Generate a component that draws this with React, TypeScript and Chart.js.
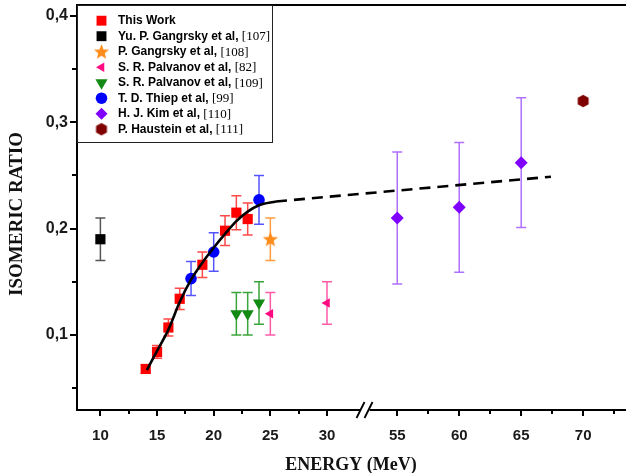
import React, { useEffect, useRef } from 'react';
import { Chart, registerables } from 'chart.js';

Chart.register(...registerables);

// ---- tick values ----
const xMajorTicks = [10, 15, 20, 25, 30, 55, 60, 65, 70];
const xMinorTicks = [12.5, 17.5, 22.5, 27.5, 57.5, 62.5, 67.5, 72.5];
const yMajorTicks = [0.1, 0.2, 0.3, 0.4];
const yMinorTicks = [0.05, 0.15, 0.25, 0.35];

// ---- data (energy in MeV, isomeric ratio, error) ----
const thisWorkE = [14, 15, 16, 17, 19, 21, 22, 23];
const thisWorkR = [0.068, 0.084, 0.107, 0.134, 0.166, 0.198, 0.215, 0.209];
const thisWorkErr = [0.004, 0.006, 0.008, 0.01, 0.012, 0.014, 0.016, 0.015];

const gangrsky107E = [10];
const gangrsky107R = [0.19];
const gangrsky107Err = [0.02];

const gangrsky108E = [25];
const gangrsky108R = [0.19];
const gangrsky108Err = [0.02];

const palvanov82E = [25, 30];
const palvanov82R = [0.12, 0.13];
const palvanov82Err = [0.02, 0.02];

const palvanov109E = [22, 23, 24];
const palvanov109R = [0.12, 0.12, 0.13];
const palvanov109Err = [0.02, 0.02, 0.02];

const thiepE = [18, 20, 24];
const thiepR = [0.153, 0.178, 0.227];
const thiepErr = [0.016, 0.018, 0.023];

const kimE = [55, 60, 65];
const kimR = [0.21, 0.22, 0.262];
const kimErr = [0.062, 0.061, 0.061];

const hausteinE = [70];
const hausteinR = [0.32];
const hausteinErr = [0];

const fitSolidE = [14.1, 15, 16, 17, 18, 19, 20, 21, 22, 23, 24, 25.5];
const fitSolidR = [0.067, 0.085, 0.105, 0.131, 0.152, 0.168, 0.182, 0.195, 0.207, 0.216, 0.222, 0.2255];
const fitDashE = [25.5, 67.4];
const fitDashR = [0.2255, 0.2488];

const legendNames = [
  'This Work',
  'Yu. P. Gangrsky et al,',
  'P. Gangrsky et al,',
  'S. R. Palvanov et al,',
  'S. R. Palvanov et al,',
  'T. D. Thiep et al,',
  'H. J. Kim et al,',
  'P. Haustein et al,',
];
const legendRefs = ['', '[107]', '[108]', '[82]', '[109]', '[99]', '[110]', '[111]'];

// ---- broken axis mapping (energy -> axis coordinate) ----
function axisPos(e: number): number {
  return e <= 40 ? e : 36.2 + (e - 55) * 1.094;
}
const X_MIN = 7.935;
const X_MAX = 56.39;
const Y_MIN = 0.0294;
const Y_MAX = 0.4103;

function makeStar(color: string) {
  const c = document.createElement('canvas');
  c.width = 17; c.height = 17;
  const g = c.getContext('2d')!;
  g.fillStyle = color;
  g.beginPath();
  for (let i = 0; i < 10; i++) {
    const r = i % 2 === 0 ? 8 : 3.4;
    const a = -Math.PI / 2 + (i * Math.PI) / 5;
    const px = 8.5 + r * Math.cos(a);
    const py = 9 + r * Math.sin(a);
    if (i === 0) g.moveTo(px, py); else g.lineTo(px, py);
  }
  g.closePath();
  g.fill();
  return c;
}
function makeHex(color: string) {
  const c = document.createElement('canvas');
  c.width = 14; c.height = 14;
  const g = c.getContext('2d')!;
  g.fillStyle = color;
  g.beginPath();
  for (let i = 0; i < 6; i++) {
    const a = Math.PI / 2 + (i * Math.PI) / 3;
    const px = 7 + 6.3 * Math.cos(a);
    const py = 7 + 6.3 * Math.sin(a);
    if (i === 0) g.moveTo(px, py); else g.lineTo(px, py);
  }
  g.closePath();
  g.fill();
  return c;
}

function drawMarker(ctx: CanvasRenderingContext2D, style: any, x: number, y: number, r: number, rotDeg: number, color: string) {
  ctx.save();
  ctx.fillStyle = color;
  if (typeof style !== 'string') {
    ctx.drawImage(style, x - style.width / 2, y - style.height / 2);
    ctx.restore();
    return;
  }
  ctx.beginPath();
  const rad = (rotDeg * Math.PI) / 180;
  if (style === 'rect') {
    const s = Math.SQRT1_2 * r;
    ctx.rect(x - s, y - s, 2 * s, 2 * s);
  } else if (style === 'circle') {
    ctx.arc(x, y, r, 0, Math.PI * 2);
  } else if (style === 'rectRot') {
    ctx.moveTo(x - r, y); ctx.lineTo(x, y - r); ctx.lineTo(x + r, y); ctx.lineTo(x, y + r);
  } else if (style === 'triangle') {
    let a = rad;
    ctx.moveTo(x + Math.sin(a) * r, y - Math.cos(a) * r);
    a += (2 * Math.PI) / 3;
    ctx.lineTo(x + Math.sin(a) * r, y - Math.cos(a) * r);
    a += (2 * Math.PI) / 3;
    ctx.lineTo(x + Math.sin(a) * r, y - Math.cos(a) * r);
  }
  ctx.closePath();
  ctx.fill();
  ctx.restore();
}

export default function App() {
  const ref = useRef<HTMLCanvasElement>(null);

  useEffect(() => {
    const canvas = ref.current!;
    const star = makeStar('#ff8c1a');
    const hex = makeHex('#7f0000');

    const pts = (es: number[], rs: number[]) => es.map((e, i) => ({ x: axisPos(e), y: rs[i] }));

    const series = [
      { E: thisWorkE, R: thisWorkR, err: thisWorkErr, style: 'rect', r: 7.2, rot: 0, color: '#ff0000', errColor: '#ff4a4a', lr: 7 },
      { E: gangrsky107E, R: gangrsky107R, err: gangrsky107Err, style: 'rect', r: 7.2, rot: 0, color: '#000000', errColor: '#555555', lr: 7 },
      { E: gangrsky108E, R: gangrsky108R, err: gangrsky108Err, style: star, r: 8, rot: 0, color: '#ff8c1a', errColor: '#ff9c40', lr: 8 },
      { E: palvanov82E, R: palvanov82R, err: palvanov82Err, style: 'triangle', r: 5.5, rot: 270, color: '#ff0a80', errColor: '#ff5aa8', lr: 5.5 },
      { E: palvanov109E, R: palvanov109R, err: palvanov109Err, style: 'triangle', r: 7, rot: 180, color: '#138a13', errColor: '#3aa53a', lr: 7 },
      { E: thiepE, R: thiepR, err: thiepErr, style: 'circle', r: 5.8, rot: 0, color: '#0000ff', errColor: '#5555ff', lr: 5.8 },
      { E: kimE, R: kimR, err: kimErr, style: 'rectRot', r: 6.5, rot: 0, color: '#7f00ff', errColor: '#b070ff', lr: 6 },
      { E: hausteinE, R: hausteinR, err: hausteinErr, style: hex, r: 6, rot: 0, color: '#7f0000', errColor: '#7f0000', lr: 6 },
    ];

    const datasets: any[] = [
      {
        label: 'fit', data: pts(fitSolidE, fitSolidR), showLine: true, borderColor: '#000', borderWidth: 2.6,
        pointRadius: 0, cubicInterpolationMode: 'monotone', fill: false, order: 0,
      },
      {
        label: 'fitDash', data: pts(fitDashE, fitDashR), showLine: true, borderColor: '#000', borderWidth: 2.6,
        borderDash: [11, 7], pointRadius: 0, fill: false, order: 0,
      },
      ...series.map((s, i) => ({
        label: legendNames[i] + legendRefs[i],
        data: pts(s.E, s.R),
        errors: s.err,
        errColor: s.errColor,
        showLine: false,
        pointStyle: s.style,
        pointRadius: s.r,
        pointRotation: s.rot,
        backgroundColor: s.color,
        borderColor: s.color,
        borderWidth: 0,
        order: 1,
      })),
    ];

    const deco = {
      id: 'deco',
      beforeDatasetsDraw(chart: any) {
        const ctx = chart.ctx as CanvasRenderingContext2D;
        const xs = chart.scales.x, ys = chart.scales.y;
        chart.data.datasets.forEach((ds: any) => {
          if (!ds.errors) return;
          ctx.save();
          ctx.strokeStyle = ds.errColor;
          ctx.lineWidth = 1.5;
          ds.data.forEach((p: any, j: number) => {
            const e = ds.errors[j];
            if (!e) return;
            const px = xs.getPixelForValue(p.x);
            const yt = ys.getPixelForValue(p.y + e);
            const yb = ys.getPixelForValue(p.y - e);
            ctx.beginPath();
            ctx.moveTo(px, yt); ctx.lineTo(px, yb);
            ctx.moveTo(px - 5, yt); ctx.lineTo(px + 5, yt);
            ctx.moveTo(px - 5, yb); ctx.lineTo(px + 5, yb);
            ctx.stroke();
          });
          ctx.restore();
        });
      },
      afterDraw(chart: any) {
        const ctx = chart.ctx as CanvasRenderingContext2D;
        const xs = chart.scales.x, ys = chart.scales.y;
        const a = chart.chartArea;
        ctx.save();
        ctx.strokeStyle = '#000';
        ctx.lineWidth = 2;
        // axes and top frame
        ctx.beginPath();
        ctx.moveTo(a.left, a.top); ctx.lineTo(a.left, a.bottom + 1);
        ctx.moveTo(a.left - 1, a.bottom); ctx.lineTo(a.right, a.bottom);
        ctx.moveTo(a.left - 1, a.top); ctx.lineTo(a.right, a.top);
        ctx.stroke();
        // x ticks
        ctx.lineWidth = 2;
        ctx.beginPath();
        xMajorTicks.forEach((e) => {
          const px = Math.round(xs.getPixelForValue(axisPos(e)));
          ctx.moveTo(px, a.bottom); ctx.lineTo(px, a.bottom + 6);
        });
        xMinorTicks.forEach((e) => {
          const px = Math.round(xs.getPixelForValue(axisPos(e)));
          ctx.moveTo(px, a.bottom); ctx.lineTo(px, a.bottom + 4);
        });
        // y ticks
        yMajorTicks.forEach((v) => {
          const py = Math.round(ys.getPixelForValue(v));
          ctx.moveTo(a.left, py); ctx.lineTo(a.left - 7, py);
        });
        yMinorTicks.forEach((v) => {
          const py = Math.round(ys.getPixelForValue(v));
          ctx.moveTo(a.left, py); ctx.lineTo(a.left - 5, py);
        });
        ctx.stroke();
        // axis break
        const bx = xs.getPixelForValue((axisPos(30) + axisPos(55)) / 2 + 0.3);
        ctx.fillStyle = '#fff';
        ctx.fillRect(bx - 5, a.bottom - 2, 9, 4);
        ctx.lineWidth = 1.8;
        ctx.beginPath();
        ctx.moveTo(bx - 9, a.bottom + 8); ctx.lineTo(bx - 1, a.bottom - 8);
        ctx.moveTo(bx - 1, a.bottom + 8); ctx.lineTo(bx + 7, a.bottom - 8);
        ctx.stroke();

        // legend
        const lx = a.left, ly = a.top, lw = 272 - a.left, lh = 142 - a.top;
        ctx.fillStyle = '#fff';
        ctx.fillRect(lx + 1, ly + 1, lw - 1, lh - 1);
        ctx.lineWidth = 1;
        ctx.strokeStyle = '#222';
        ctx.strokeRect(lx + 0.5, ly + 0.5, lw, lh);
        series.forEach((s, i) => {
          const y = 20.7 + i * 15.5;
          drawMarker(ctx, s.style, 101.5, y, s.lr, s.rot, s.color);
          ctx.fillStyle = '#000';
          ctx.textBaseline = 'middle';
          ctx.textAlign = 'left';
          ctx.font = "bold 12px 'Liberation Sans', Arial, sans-serif";
          ctx.fillText(legendNames[i], 118, y);
          if (legendRefs[i]) {
            const w = ctx.measureText(legendNames[i] + ' ').width;
            ctx.font = "13px 'Liberation Serif', 'Times New Roman', serif";
            ctx.fillText(legendRefs[i], 118 + w, y + 0.5);
          }
        });

        // axis titles
        ctx.fillStyle = '#111';
        ctx.textAlign = 'center';
        ctx.textBaseline = 'middle';
        ctx.font = "bold 18px 'Liberation Serif', 'Times New Roman', serif";
        ctx.fillText('ENERGY (MeV)', 351, 465);
        ctx.translate(17, 214);
        ctx.rotate(-Math.PI / 2);
        ctx.font = "bold 19px 'Liberation Serif', 'Times New Roman', serif";
        ctx.fillText('ISOMERIC RATIO', 0, 0);
        ctx.restore();
      },
    };

    const chart = new Chart(canvas, {
      type: 'scatter',
      data: { datasets },
      options: {
        responsive: false,
        animation: false,
        events: [],
        layout: { autoPadding: false, padding: { top: 5, right: 0, left: 0, bottom: 0 } },
        plugins: { legend: { display: false }, tooltip: { enabled: false } },
        scales: {
          x: {
            type: 'linear',
            min: X_MIN,
            max: X_MAX,
            grid: { display: false, drawTicks: false },
            border: { display: false },
            afterBuildTicks: (s: any) => {
              s.ticks = xMajorTicks.map((e) => ({ value: axisPos(e) }));
            },
            afterFit: (s: any) => {
              s.height = 63;
              s.paddingLeft = 0;
              s.paddingRight = 0;
            },
            ticks: {
              autoSkip: false,
              maxRotation: 0,
              padding: 17,
              color: '#1a1a1a',
              font: { family: "'Liberation Sans', Arial, sans-serif", size: 15, weight: 'bold' },
              callback: (_v: any, i: number) => String(xMajorTicks[i]),
            },
          },
          y: {
            type: 'linear',
            min: Y_MIN,
            max: Y_MAX,
            grid: { display: false, drawTicks: false },
            border: { display: false },
            afterBuildTicks: (s: any) => {
              s.ticks = yMajorTicks.map((v) => ({ value: v }));
            },
            afterFit: (s: any) => {
              s.width = 77;
              s.paddingTop = 0;
              s.paddingBottom = 0;
            },
            ticks: {
              autoSkip: false,
              padding: 9,
              color: '#1a1a1a',
              font: { family: "'Liberation Sans', Arial, sans-serif", size: 16, weight: 'bold' },
              callback: (v: any) => Number(v).toFixed(1).replace('.', ','),
            },
          },
        },
      } as any,
      plugins: [deco],
    });
    return () => chart.destroy();
  }, []);

  return (
    <div style={{ position: 'fixed', left: 0, top: 0, width: 626, height: 473, background: '#fff' }}>
      <canvas ref={ref} width={626} height={473} style={{ display: 'block', width: 626, height: 473 }} />
    </div>
  );
}
